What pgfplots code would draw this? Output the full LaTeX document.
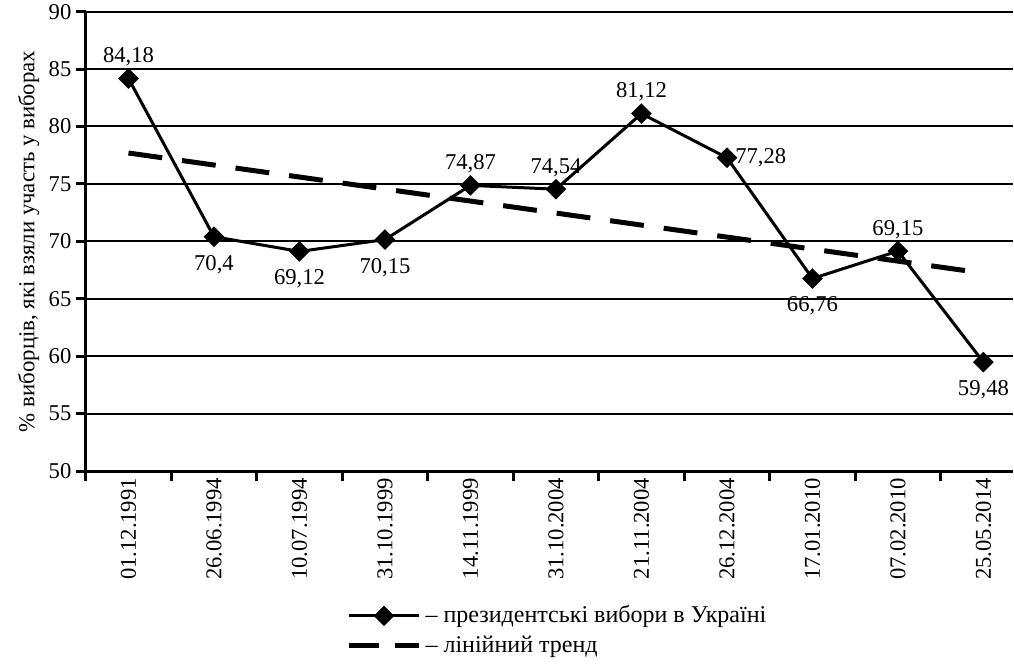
\documentclass[border=0pt]{standalone}
\usepackage{fontspec}
\setmainfont{Liberation Serif}
\usepackage{pgfplots}
\usepackage{pgfplotstable}
\pgfplotsset{compat=1.18}

\pgfplotsset{
    diamond legend/.style={legend image code/.code={%
        \draw[##1, mark repeat=2, mark phase=2] plot coordinates {(0pt,0pt) (17.5pt,0pt) (35pt,0pt)};}},
    dash legend/.style={legend image code/.code={%
        \draw[##1] (0pt,0pt) -- (35pt,0pt);}},
}

% turnout per election
\pgfplotstableread{
x y
0 84.18
1 70.40
2 69.12
3 70.15
4 74.87
5 74.54
6 81.12
7 77.28
8 66.76
9 69.15
10 59.48
}\turnout

% value labels, grouped by where they sit
\pgfplotstableread{
x y lab
0 84.18 84,18
4 74.87 74,87
5 74.54 74,54
6 81.12 81,12
9 69.15 69,15
}\lababove
\pgfplotstableread{
x y lab
1 70.40 70,4
2 69.12 69,12
3 70.15 70,15
8 66.76 66,76
10 59.48 59,48
}\labbelow
\pgfplotstableread{
x y lab
7 77.28 77,28
}\labright

% linear trend end points
\pgfplotstableread{
x y
0 77.69
10 67.23
}\trend

\begin{document}
\begin{tikzpicture}[font=\fontsize{11.3}{13.5}\selectfont]
\begin{axis}[
    scale only axis,
    width=463pt, height=229.5pt,
    xmin=-0.5, xmax=10.34,
    ymin=50, ymax=90,
    axis x line*=bottom, axis y line*=left,
    axis line style={-, line width=1.5pt},
    ytick={50,55,...,90},
    ymajorgrids,
    major grid style={black, line width=1pt},
    xtick={-0.5,0.5,...,9.5},
    xticklabels={},
    extra x ticks={0,1,...,10},
    extra x tick labels={01.12.1991,26.06.1994,10.07.1994,31.10.1999,14.11.1999,31.10.2004,21.11.2004,26.12.2004,17.01.2010,07.02.2010,25.05.2014},
    extra x tick style={major tick length=0pt, grid=none},
    tick align=outside,
    major tick length=5pt,
    tick style={black, line width=1.5pt},
    x tick label style={rotate=90, anchor=east},
    y tick label style={inner sep=2pt},
    /pgf/number format/assume math mode=true,
    ylabel={\% виборців, які взяли участь у виборах},
    ylabel style={at={(axis description cs:-0.0616,0.5)}, anchor=center,
        inner ysep=9pt, font=\fontsize{11.4}{14}\selectfont},
    legend style={at={(0.51,-0.275)}, anchor=north, draw=none, fill=none,
        row sep=1pt, font=\fontsize{12}{14}\selectfont},
    legend cell align=left,
    every node near coord/.append style={inner sep=2pt, black},
]
\addlegendimage{black, line width=1.5pt, mark=square*, mark size=2.9pt,
    mark options={rotate=45, solid}, diamond legend}
\addlegendentry{-- президентські вибори в Україні}
\addlegendimage{black, line width=2.5pt, dash pattern=on 15pt off 8pt, dash legend}
\addlegendentry{-- лінійний тренд}

\addplot[black, line width=2.5pt, dash pattern=on 17pt off 10pt, no marks, forget plot]
    table[x=x, y=y] {\trend};

\addplot[black, line width=1.5pt, mark=square*, mark size=2.9pt,
    mark options={rotate=45, solid}, forget plot]
    table[x=x, y=y] {\turnout};

\addplot[draw=none, no marks, forget plot, point meta=explicit symbolic,
    nodes near coords, nodes near coords style={anchor=south, yshift=4pt}]
    table[x=x, y=y, meta=lab] {\lababove};
\addplot[draw=none, no marks, forget plot, point meta=explicit symbolic,
    nodes near coords, nodes near coords style={anchor=north, yshift=-7pt}]
    table[x=x, y=y, meta=lab] {\labbelow};
\addplot[draw=none, no marks, forget plot, point meta=explicit symbolic,
    nodes near coords, nodes near coords style={anchor=west, xshift=2pt}]
    table[x=x, y=y, meta=lab] {\labright};
\end{axis}
\end{tikzpicture}
\end{document}
